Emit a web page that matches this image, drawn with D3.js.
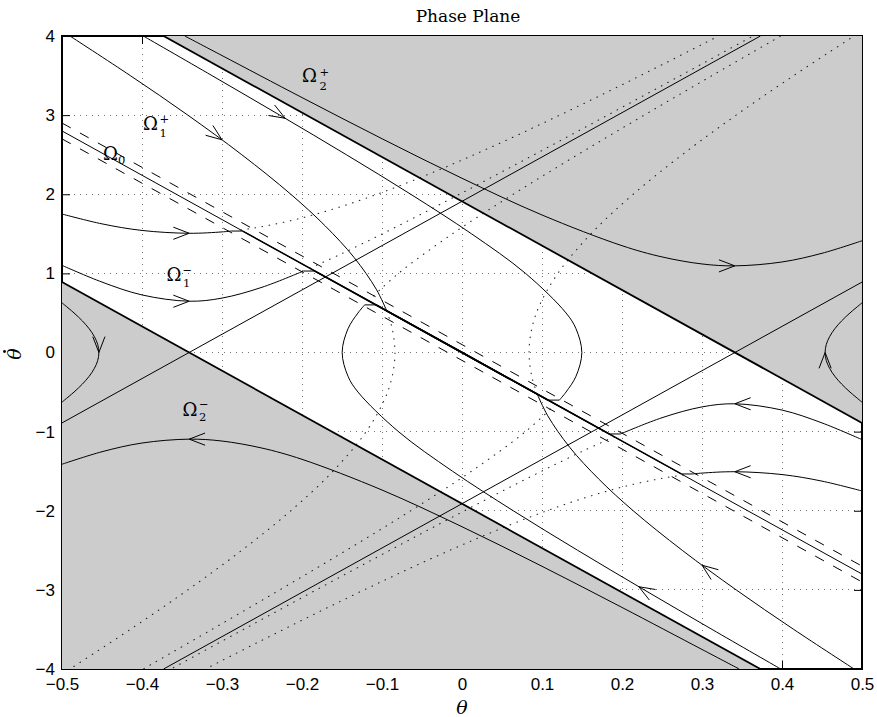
<!DOCTYPE html>
<html>
<head>
<meta charset="utf-8">
<script src="https://cdn.jsdelivr.net/npm/d3@7"></script>
<style>
  body { margin: 0; background: #fff; }
  svg { display: block; }
</style>
</head>
<body>
<svg id="chart" width="877" height="717"></svg>
<script>
// ---------- axes ----------
const thetaTicks = [-0.5, -0.4, -0.3, -0.2, -0.1, 0, 0.1, 0.2, 0.3, 0.4, 0.5];
const thetaTickLabels = ["\u22120.5", "\u22120.4", "\u22120.3", "\u22120.2", "\u22120.1", "0", "0.1", "0.2", "0.3", "0.4", "0.5"];
const thetaDotTicks = [-4, -3, -2, -1, 0, 1, 2, 3, 4];
const thetaDotTickLabels = ["\u22124", "\u22123", "\u22122", "\u22121", "0", "1", "2", "3", "4"];

// ---------- straight lines [theta, thetaDot] ----------
const slidingLine   = [[-0.5, 2.8], [0.5, -2.8]];        // Omega_0
const layerUpper    = [[-0.5, 2.9], [0.5, -2.7]];        // boundary layer
const layerLower    = [[-0.5, 2.7], [0.5, -2.9]];
const stableUpper   = [[-0.373, 4], [0.5, -0.89]];       // region boundaries
const stableLower   = [[-0.5, 0.89], [0.373, -4]];
const unstableLeft  = [[-0.5, -0.89], [0.373, 4]];
const unstableRight = [[-0.373, -4], [0.5, 0.89]];

// ---------- shaded regions ----------
const regionUpper = [[-0.373, 4], [0.5, 4], [0.5, -0.89]];
const regionLower = [[-0.5, 0.89], [-0.5, -4], [0.373, -4]];

// ---------- trajectories outside the attraction region ----------
const orbitTop = [[-0.3465, 4.0], [-0.3, 3.753], [-0.2, 3.222], [-0.1, 2.702], [0, 2.202], [0.1, 1.738],
  [0.2, 1.350], [0.25, 1.208], [0.3, 1.119], [0.341, 1.095], [0.4, 1.144], [0.45, 1.254], [0.5, 1.412]];
const orbitBottom = [[0.3465, -4.0], [0.3, -3.753], [0.2, -3.222], [0.1, -2.702], [0, -2.202], [-0.1, -1.738],
  [-0.2, -1.350], [-0.25, -1.208], [-0.3, -1.119], [-0.341, -1.095], [-0.4, -1.144], [-0.45, -1.254], [-0.5, -1.412]];
const orbitRight = [[0.5, -0.627], [0.4967, -0.6], [0.485, -0.5], [0.4746, -0.4], [0.466, -0.3], [0.4595, -0.2],
  [0.4553, -0.1], [0.4539, 0], [0.4553, 0.1], [0.4595, 0.2], [0.466, 0.3], [0.4746, 0.4], [0.485, 0.5],
  [0.4967, 0.6], [0.5, 0.627]];
const orbitLeft = [[-0.5, 0.627], [-0.4967, 0.6], [-0.485, 0.5], [-0.4746, 0.4], [-0.466, 0.3], [-0.4595, 0.2],
  [-0.4553, 0.1], [-0.4539, 0], [-0.4553, -0.1], [-0.4595, -0.2], [-0.466, -0.3], [-0.4746, -0.4], [-0.485, -0.5],
  [-0.4967, -0.6], [-0.5, -0.627]];

// ---------- trajectories reaching Omega_0 (approach, hop into the line, slide) ----------
const approachLowA = [[-0.5, 1.101], [-0.45, 0.890], [-0.4, 0.7275], [-0.341, 0.648], [-0.3, 0.6875],
  [-0.25, 0.8244], [-0.2, 1.0215], [-0.1981, 1.0296]];
const hopLowA = [[-0.1981, 1.0296], [-0.1839, 1.0296]];
const approachLowB = [[-0.5, 1.7501], [-0.45, 1.6256], [-0.4, 1.5425], [-0.341, 1.5067], [-0.3, 1.5240], [-0.2884, 1.5350]];
const hopLowB = [[-0.2884, 1.5350], [-0.2741, 1.5350]];
const approachHighA = [[-0.4901, 4], [-0.4147, 3.5], [-0.3427, 3], [-0.2753, 2.5], [-0.2140, 2], [-0.1710, 1.6],
  [-0.1348, 1.2], [-0.1072, 0.8], [-0.0941, 0.5271]];
const approachHighB = [[-0.3984, 4], [-0.3126, 3.5], [-0.2278, 3], [-0.1446, 2.5], [-0.0641, 2], [0.0119, 1.5],
  [0.0794, 1.0], [0.1300, 0.5], [0.1425, 0.3], [0.1498, 0], [0.1425, -0.3], [0.1300, -0.5], [0.1217, -0.6016]];
const hopHighB = [[0.1217, -0.6016], [0.1074, -0.6016]];

const approachLowA2 = [[0.5, -1.101], [0.45, -0.890], [0.4, -0.7275], [0.341, -0.648], [0.3, -0.6875],
  [0.25, -0.8244], [0.2, -1.0215], [0.1981, -1.0296]];
const hopLowA2 = [[0.1981, -1.0296], [0.1839, -1.0296]];
const approachLowB2 = [[0.5, -1.7501], [0.45, -1.6256], [0.4, -1.5425], [0.341, -1.5067], [0.3, -1.5240], [0.2884, -1.5350]];
const hopLowB2 = [[0.2884, -1.5350], [0.2741, -1.5350]];
const approachHighA2 = [[0.4901, -4], [0.4147, -3.5], [0.3427, -3], [0.2753, -2.5], [0.2140, -2], [0.1710, -1.6],
  [0.1348, -1.2], [0.1072, -0.8], [0.0941, -0.5271]];
const approachHighB2 = [[0.3984, -4], [0.3126, -3.5], [0.2278, -3], [0.1446, -2.5], [0.0641, -2], [-0.0119, -1.5],
  [-0.0794, -1.0], [-0.1300, -0.5], [-0.1425, -0.3], [-0.1498, 0], [-0.1425, 0.3], [-0.1300, 0.5], [-0.1217, 0.6016]];
const hopHighB2 = [[-0.1217, 0.6016], [-0.1074, 0.6016]];

// points where each trajectory joins Omega_0 and slides to the origin
const slideStarts = [[-0.2741, 1.535], [-0.1839, 1.0296], [-0.1074, 0.6016], [-0.0941, 0.5271],
  [0.2741, -1.535], [0.1839, -1.0296], [0.1074, -0.6016], [0.0941, -0.5271]];

// ---------- unswitched continuations (dotted) ----------
const ghostLowA = [[-0.1901, 1.0648], [-0.15, 1.2506], [-0.1, 1.4971], [-0.05, 1.7537], [0, 2.0166], [0.05, 2.2835],
  [0.1, 2.5532], [0.15, 2.8249], [0.2, 3.0982], [0.25, 3.3725], [0.3, 3.6476], [0.3638, 4]];
const ghostLowB = [[-0.2766, 1.5491], [-0.25, 1.5905], [-0.2, 1.7010], [-0.15, 1.8477], [-0.1, 2.0227], [-0.05, 2.2194],
  [0, 2.4324], [0.05, 2.6579], [0.1, 2.8929], [0.15, 3.1353], [0.2, 3.3836], [0.25, 3.6364], [0.3, 3.8930], [0.3207, 4]];
const ghostHighA = [[-0.0941, 0.5271], [-0.0872, 0.3], [-0.0838, 0], [-0.0872, -0.3], [-0.0971, -0.6], [-0.1198, -1.0],
  [-0.1612, -1.5], [-0.2140, -2], [-0.2753, -2.5], [-0.3427, -3], [-0.4147, -3.5], [-0.4901, -4]];
const ghostHighB = [[0.1169, -0.6547], [0.0794, -1.0], [0.0119, -1.5], [-0.0641, -2], [-0.1446, -2.5], [-0.2278, -3],
  [-0.3126, -3.5], [-0.3984, -4]];
const ghostLowA2 = [[0.1901, -1.0648], [0.15, -1.2506], [0.1, -1.4971], [0.05, -1.7537], [0, -2.0166], [-0.05, -2.2835],
  [-0.1, -2.5532], [-0.15, -2.8249], [-0.2, -3.0982], [-0.25, -3.3725], [-0.3, -3.6476], [-0.3638, -4]];
const ghostLowB2 = [[0.2766, -1.5491], [0.25, -1.5905], [0.2, -1.7010], [0.15, -1.8477], [0.1, -2.0227], [0.05, -2.2194],
  [0, -2.4324], [-0.05, -2.6579], [-0.1, -2.8929], [-0.15, -3.1353], [-0.2, -3.3836], [-0.25, -3.6364], [-0.3, -3.8930], [-0.3207, -4]];
const ghostHighA2 = [[0.0941, -0.5271], [0.0872, -0.3], [0.0838, 0], [0.0872, 0.3], [0.0971, 0.6], [0.1198, 1.0],
  [0.1612, 1.5], [0.2140, 2], [0.2753, 2.5], [0.3427, 3], [0.4147, 3.5], [0.4901, 4]];
const ghostHighB2 = [[-0.1169, 0.6547], [-0.0794, 1.0], [-0.0119, 1.5], [0.0641, 2], [0.1446, 2.5], [0.2278, 3],
  [0.3126, 3.5], [0.3984, 4]];

// ---------- direction arrows: [theta, thetaDot, dTheta, dThetaDot] ----------
const arrows = [
  [-0.341, 0.648, 1, 0], [-0.341, 1.507, 1, 0], [-0.3, 2.688, 2.688, -20.10], [-0.221, 2.96, 2.96, -17.63],
  [0.341, 1.095, 1, 0], [0.4539, 0, 0, 1],
  [0.341, -0.648, -1, 0], [0.341, -1.507, -1, 0], [0.3, -2.688, -2.688, 20.10], [0.221, -2.96, -2.96, 17.63],
  [-0.341, -1.095, -1, 0], [-0.4539, 0, 0, -1]
];

// ---------- region labels ----------
const regionLabels = [
  { x: 302, y: 82,      sub: "2", sup: "+",      subX: 319.5, subY: 90,   supX: 319.5, supY: 76 },
  { x: 143, y: 129.5,   sub: "1", sup: "+",      subX: 159.5, subY: 137,  supX: 159.5, supY: 123 },
  { x: 103, y: 160,     sub: "0", sup: "",       subX: 118,   subY: 164,  supX: 0, supY: 0 },
  { x: 166.5, y: 281,   sub: "1", sup: "\u2212", subX: 183,   subY: 287,  supX: 182.5, supY: 273.5 },
  { x: 182.5, y: 415.5, sub: "2", sup: "\u2212", subX: 199,   subY: 421,  supX: 199, supY: 407.5 }
];

// ====================================================================
const svg = d3.select("#chart");
const L = 62, R = 862, T = 36, B = 669;
const x = d3.scaleLinear().domain([-0.5, 0.5]).range([L, R]);
const y = d3.scaleLinear().domain([-4, 4]).range([B, T]);

svg.append("rect").attr("width", 877).attr("height", 717).attr("fill", "#fff");

svg.append("defs").append("clipPath").attr("id", "plot")
  .append("rect").attr("x", L).attr("y", T).attr("width", R - L).attr("height", B - T);

// grid
const grid = svg.append("g").attr("stroke", "#000").attr("stroke-opacity", 0.55)
  .attr("stroke-dasharray", "1,5").attr("shape-rendering", "crispEdges");
grid.selectAll(".gx").data(thetaTicks.slice(1, -1)).join("line")
  .attr("x1", d => x(d)).attr("x2", d => x(d)).attr("y1", T).attr("y2", B);
grid.selectAll(".gy").data(thetaDotTicks.slice(1, -1)).join("line")
  .attr("y1", d => y(d)).attr("y2", d => y(d)).attr("x1", L).attr("x2", R);

// axes (ticks inside the box)
const tickFont = "'Liberation Sans', Arial, Helvetica, sans-serif";
const xAxis = d3.axisBottom(x).tickValues(thetaTicks).tickSizeInner(-8).tickSizeOuter(0).tickPadding(9)
  .tickFormat((d, i) => thetaTickLabels[i]);
const yAxis = d3.axisLeft(y).tickValues(thetaDotTicks).tickSizeInner(-8).tickSizeOuter(0).tickPadding(7)
  .tickFormat((d, i) => thetaDotTickLabels[i]);
const xTop = d3.axisTop(x).tickValues(thetaTicks).tickSizeInner(-8).tickSizeOuter(0).tickFormat("");
const yRight = d3.axisRight(y).tickValues(thetaDotTicks).tickSizeInner(-8).tickSizeOuter(0).tickFormat("");

function styleAxis(g) {
  g.select(".domain").remove();
  g.selectAll("line").attr("stroke", "#000");
  g.selectAll("text").attr("font-family", tickFont).attr("font-size", 17).attr("fill", "#000");
}
svg.append("g").attr("transform", `translate(0,${B})`).call(xAxis).call(styleAxis);
svg.append("g").attr("transform", `translate(${L},0)`).call(yAxis).call(styleAxis);
svg.append("g").attr("transform", `translate(0,${T})`).call(xTop).call(styleAxis);
svg.append("g").attr("transform", `translate(${R},0)`).call(yRight).call(styleAxis);

// box (drawn under the shaded regions, which cover its inner half)
svg.append("rect").attr("x", L).attr("y", T).attr("width", R - L).attr("height", B - T)
  .attr("fill", "none").attr("stroke", "#000").attr("stroke-width", 2);

const plot = svg.append("g").attr("clip-path", "url(#plot)");

// shaded regions
const area = d3.line().x(d => x(d[0])).y(d => y(d[1]));
[regionUpper, regionLower].forEach(p => {
  plot.append("path").attr("d", area(p) + "Z").attr("fill", "#cccccc").attr("stroke", "none");
});

const smooth = d3.line().x(d => x(d[0])).y(d => y(d[1])).curve(d3.curveCatmullRom.alpha(0.5));
const straight = d3.line().x(d => x(d[0])).y(d => y(d[1]));

function draw(data, opts) {
  const p = plot.append("path").attr("d", (opts.gen || smooth)(data))
    .attr("fill", "none").attr("stroke", "#000").attr("stroke-width", opts.w || 1);
  if (opts.dash) p.attr("stroke-dasharray", opts.dash);
  if (opts.cap) p.attr("stroke-linecap", opts.cap);
  if (opts.op) p.attr("stroke-opacity", opts.op);
  return p;
}

// dotted unswitched continuations
[ghostLowA, ghostLowB, ghostHighA, ghostHighB, ghostLowA2, ghostLowB2, ghostHighA2, ghostHighB2]
  .forEach(d => draw(d, { w: 1.1, dash: "0.6,6.6", cap: "round", op: 0.85 }));

// boundary layer
[layerUpper, layerLower].forEach(d => draw(d, { gen: straight, w: 1, dash: "10,10.5" }));

// sliding line and separatrices
draw(slidingLine, { gen: straight, w: 1 });
[unstableLeft, unstableRight].forEach(d => draw(d, { gen: straight, w: 1 }));
[stableUpper, stableLower].forEach(d => draw(d, { gen: straight, w: 1.8 }));

// trajectories
[orbitTop, orbitBottom, orbitRight, orbitLeft,
 approachLowA, approachLowB, approachHighA, approachHighB,
 approachLowA2, approachLowB2, approachHighA2, approachHighB2].forEach(d => draw(d, { w: 1 }));
[hopLowA, hopLowB, hopHighB, hopLowA2, hopLowB2, hopHighB2].forEach(d => draw(d, { gen: straight, w: 1 }));
slideStarts.forEach(s => draw([s, [0, 0]], { gen: straight, w: 1.5 }));

// arrowheads
const headLen = 17, headAng = 21 * Math.PI / 180;
arrows.forEach(([t, td, dt, dtd]) => {
  const px = x(t), py = y(td);
  const e = 0.001;
  let ux = x(t + dt * e) - px, uy = y(td + dtd * e) - py;
  const n = Math.hypot(ux, uy); ux /= n; uy /= n;
  const wing = s => {
    const c = Math.cos(s * headAng), si = Math.sin(s * headAng);
    const rx = ux * c - uy * si, ry = ux * si + uy * c;
    return [px - headLen * rx, py - headLen * ry];
  };
  const a = wing(1), b = wing(-1);
  plot.append("path").attr("d", `M${a[0]},${a[1]}L${px},${py}L${b[0]},${b[1]}`)
    .attr("fill", "none").attr("stroke", "#000").attr("stroke-width", 1);
});

// region labels: Omega with stacked superscript and subscript
const serif = "'DejaVu Serif', 'Liberation Serif', serif";
regionLabels.forEach(l => {
  const t = svg.append("text").attr("x", l.x).attr("y", l.y).attr("font-family", serif).attr("font-size", 18);
  t.append("tspan").text("\u03A9");
  if (l.sup) t.append("tspan").attr("x", l.supX).attr("y", l.supY).attr("font-size", 11.5).text(l.sup);
  t.append("tspan").attr("x", l.subX).attr("y", l.subY).attr("font-size", 11.5).text(l.sub);
});

// title and axis labels
svg.append("text").attr("x", 468).attr("y", 22).attr("text-anchor", "middle")
  .attr("font-family", serif).attr("font-size", 17).text("Phase Plane");
svg.append("text").attr("x", 462).attr("y", 713.5).attr("text-anchor", "middle")
  .attr("font-family", serif).attr("font-style", "italic").attr("font-size", 19).text("\u03B8");
const yLab = svg.append("g").attr("transform", "translate(21,354) rotate(-90)");
yLab.append("text").attr("x", 0).attr("y", 0).attr("text-anchor", "middle")
  .attr("font-family", serif).attr("font-style", "italic").attr("font-size", 19).text("\u03B8");
yLab.append("circle").attr("cx", 2.5).attr("cy", -16.5).attr("r", 1.4).attr("fill", "#000");
</script>
</body>
</html>
